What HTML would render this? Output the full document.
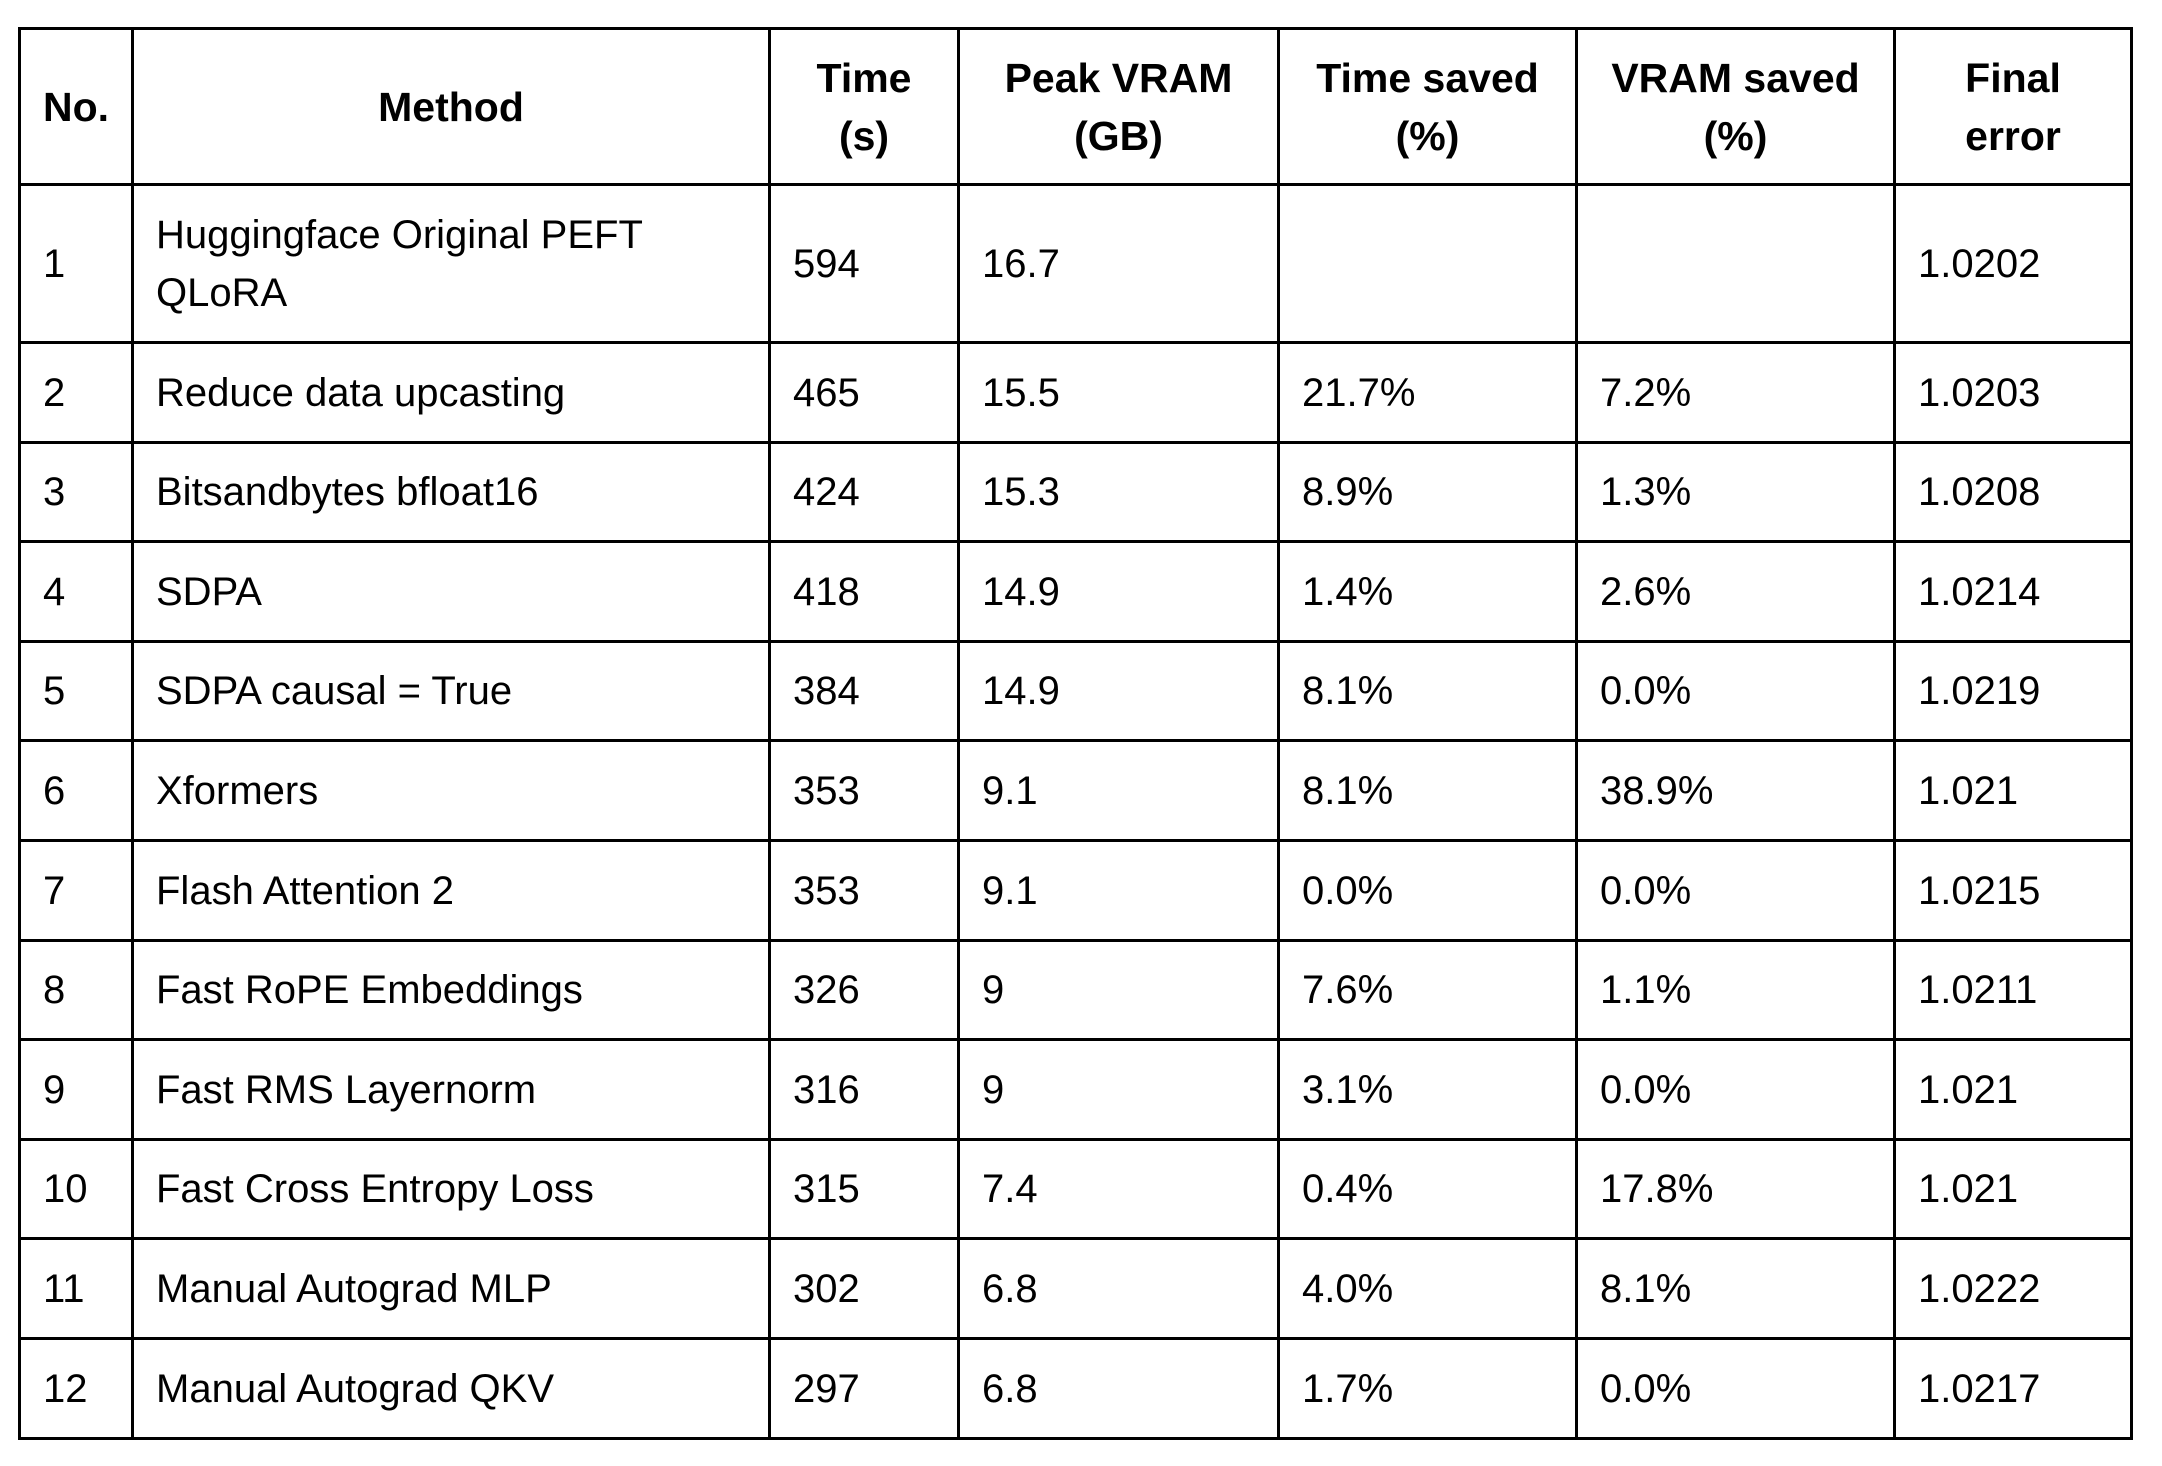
<!DOCTYPE html>
<html><head><meta charset="utf-8"><style>
html,body{margin:0;padding:0;background:#fff;width:2162px;height:1466px;overflow:hidden;position:relative}
.v{position:absolute;top:27px;height:1413px;width:3px;background:#000}
.h{position:absolute;left:18px;width:2115px;height:3px;background:#000}
.c{position:absolute;display:flex;align-items:center;font-family:"Liberation Sans",sans-serif;font-size:40px;line-height:58px;color:#000;white-space:nowrap;padding-left:22px;box-sizing:border-box}
.hd{justify-content:center;text-align:center;font-weight:bold;font-size:41px;padding-left:0}
.b{font-weight:bold;font-size:41px}
</style></head><body>
<div id="l"></div>
<div id="t"></div>
<script>
var xs=[19,132,769,958,1278,1576,1894,2131];
var ys=[28,184,342];for(var i=1;i<=11;i++)ys.push(342+Math.round(99.6*i));
var hdr=["No.","Method","Time<br>(s)","Peak VRAM<br>(GB)","Time saved<br>(%)","VRAM saved<br>(%)","Final<br>error"];
var d=[["1","Huggingface Original PEFT<br>QLoRA","594","16.7","","","1.0202"],
["2","Reduce data upcasting","465","15.5","21.7%","7.2%","1.0203"],
["3","Bitsandbytes bfloat16","424","15.3","8.9%","1.3%","1.0208"],
["4","SDPA","418","14.9","1.4%","2.6%","1.0214"],
["5","SDPA causal = True","384","14.9","8.1%","0.0%","1.0219"],
["6","Xformers","353","9.1","8.1%","38.9%","1.021"],
["7","Flash Attention 2","353","9.1","0.0%","0.0%","1.0215"],
["8","Fast RoPE Embeddings","326","9","7.6%","1.1%","1.0211"],
["9","Fast RMS Layernorm","316","9","3.1%","0.0%","1.021"],
["10","Fast Cross Entropy Loss","315","7.4","0.4%","17.8%","1.021"],
["11","Manual Autograd MLP","302","6.8","4.0%","8.1%","1.0222"],
["12","Manual Autograd QKV","297","6.8","1.7%","0.0%","1.0217"]];
var l="";
for(var i=0;i<xs.length;i++)l+='<div class="v" style="left:'+(xs[i]-1)+'px"></div>';
for(var i=0;i<ys.length;i++)l+='<div class="h" style="top:'+(ys[i]-1)+'px"></div>';
document.getElementById('l').innerHTML=l;
var h="";
function cell(c,r,txt,cls){h+='<div class="c '+cls+'" style="left:'+(xs[c]+2)+'px;top:'+(ys[r]+2)+'px;width:'+(xs[c+1]-xs[c]-3)+'px;height:'+(ys[r+1]-ys[r]-3)+'px">'+txt+'</div>';}
for(var c=0;c<7;c++)cell(c,0,hdr[c],c==0?'b':'hd');
for(var r=0;r<12;r++)for(var c=0;c<7;c++)cell(c,r+1,d[r][c],'');
document.getElementById('t').innerHTML=h;
</script>
</body></html>
